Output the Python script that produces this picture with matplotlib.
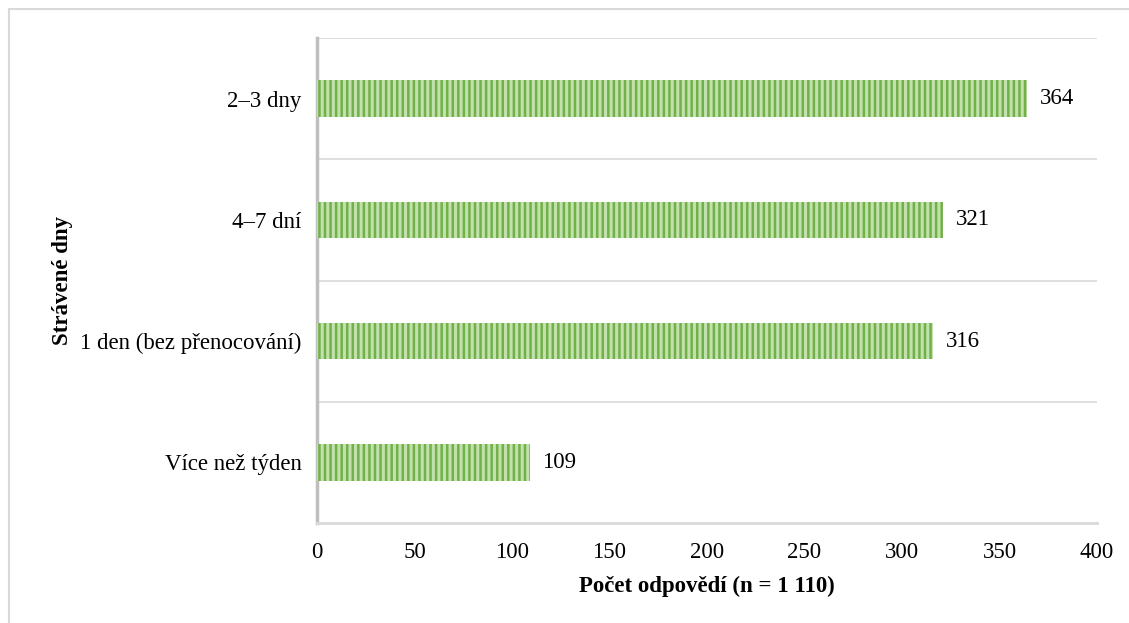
import matplotlib
matplotlib.use("Agg")
import matplotlib.pyplot as plt
from matplotlib.patches import Rectangle

plt.rcParams["font.family"] = ["Liberation Serif", "DejaVu Serif"]
plt.rcParams["hatch.linewidth"] = 1.8

categories = ["Více než týden", "1 den (bez přenocování)", "4–7 dní", "2–3 dny"]
values = [109, 316, 321, 364]
xticks = [0, 50, 100, 150, 200, 250, 300, 350, 400]

W, H = 1129, 623
FS = 16.5
fig = plt.figure(figsize=(W / 100, H / 100), dpi=100)
fig.patch.set_facecolor("white")

# outer chart border (only top/left visible in the reference)
fig.patches.append(Rectangle((9 / W, -0.1), 1.2, (H - 9) / H + 0.1,
                             transform=fig.transFigure, fill=False,
                             edgecolor="#d9d9d9", lw=1.5))

ax = fig.add_axes([317 / W, 1 - 523 / H, (1097 - 317) / W, (523 - 38) / H])
ypos = range(len(categories))
ax.barh(ypos, values, height=0.3, color="#c3e1ad", edgecolor="#72b04a",
        hatch="|||", linewidth=0, zorder=3)
for y, v in zip(ypos, values):
    ax.text(v + 6.5, y, str(v), va="center", ha="left", fontsize=FS)

ax.set_xlim(0, 400)
ax.set_ylim(-0.5, len(categories) - 0.5)
ax.set_xticks(xticks)
ax.set_yticks(list(ypos))
ax.set_yticklabels(categories)
for b in [0.5, 1.5, 2.5, 3.5]:
    ax.axhline(b, color="#d9d9d9", lw=1.2, zorder=1)

for s in ["top", "right"]:
    ax.spines[s].set_visible(False)
ax.spines["left"].set_color("#bfbfbf")
ax.spines["left"].set_linewidth(2.5)
ax.spines["bottom"].set_color("#d9d9d9")
ax.spines["bottom"].set_linewidth(2)
ax.tick_params(length=0, labelsize=FS)
ax.tick_params(axis="x", pad=14)
ax.tick_params(axis="y", pad=11)

ax.set_xlabel("Počet odpovědí (n = 1 110)", fontsize=FS, fontweight="bold",
              labelpad=9)
ax.set_ylabel("Strávené dny", fontsize=FS, fontweight="bold", labelpad=5)

fig.savefig("out.png", dpi=100)
